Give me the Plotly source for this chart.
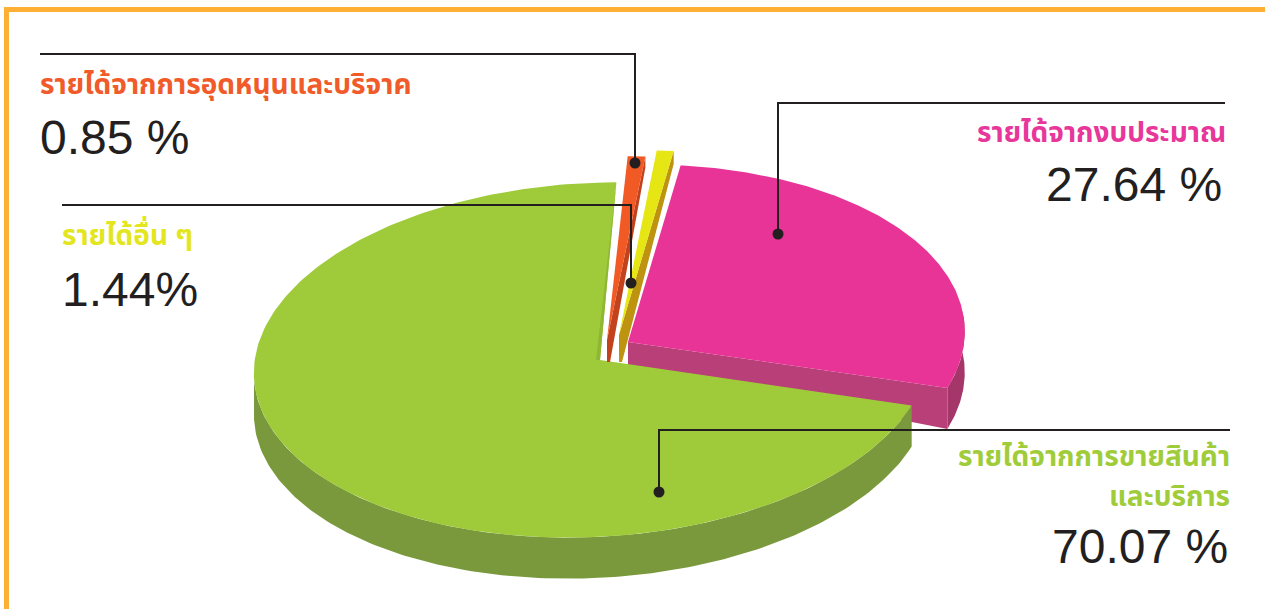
import numpy as np
import plotly.graph_objects as go

# ---------- data ----------
categories = [["รายได้จากงบประมาณ"], ["รายได้จากการขายสินค้า", "และบริการ"], ["รายได้จากการอุดหนุนและบริจาค"], ["รายได้อื่น ๆ"]]
values = [27.64, 70.07, 0.85, 1.44]
value_labels = ["27.64 %", "70.07 %", "0.85 %", "1.44%"]

# ---------- style / layout ----------
top_colors = ["#E83397", "#9FCB3A", "#F15A24", "#E6E615"]
side_colors = ["#B93F78", "#7A993C", "#C1421C", "#BD9310"]
outer_colors = ["#A43669", "#7A993C", "#C1421C", "#BD9310"]
label_colors = ["#E8379A", "#A0CC3A", "#F15A29", "#E3E61F"]
INK = "#231F20"
FRAME = "#FDB035"
# per slice: ellipse centre, semi axes, tilt, wedge apex, start angle, drawn-sweep scale, depth at apex and rim
geo = [
    dict(c=(628, 342), a=337, b=177, tilt=2.5, apex=(628, 342), start=-79.7, scale=1.0, d0=24, d1=41),
    dict(c=(592, 360), a=338.5, b=177, tilt=3.0, apex=(600, 360), start=20.6, scale=1.0113, d0=0, d1=41),
    dict(c=(607, 340), a=346, b=183, tilt=3.0, apex=(607, 340), start=-85.1, scale=1.0, d0=22, d1=11),
    dict(c=(619, 335), a=346, b=184, tilt=3.0, apex=(619, 335), start=-82.26, scale=0.57, d0=27, d1=13),
]


def ell(g, t_deg):
    t = np.radians(np.asarray(t_deg, float))
    tilt = np.radians(g["tilt"])
    u, v = g["a"] * np.cos(t), g["b"] * np.sin(t)
    return (g["c"][0] + u * np.cos(tilt) + v * np.sin(tilt),
            g["c"][1] - u * np.sin(tilt) + v * np.cos(tilt))


def poly(fig, xs, ys, color):
    fig.add_trace(go.Scatter(x=list(xs), y=list(ys), mode="lines", fill="toself",
                             fillcolor=color, line=dict(width=0, color=color),
                             hoverinfo="skip", showlegend=False))


fig = go.Figure()
sweeps = [v * 3.6 * g["scale"] for v, g in zip(values, geo)]
ts = [np.linspace(g["start"], g["start"] + s, 240) for g, s in zip(geo, sweeps)]

# pink
g, t = geo[0], ts[0]
x, y = ell(g, t)
rim = t >= -6
poly(fig, list(x[rim]) + list(x[rim][::-1]), list(y[rim]) + list(y[rim][::-1] + g["d1"]), outer_colors[0])
poly(fig, [g["apex"][0], g["apex"][0], x[-1], x[-1]], [g["apex"][1], g["apex"][1] + g["d0"], y[-1] + g["d1"], y[-1]], side_colors[0])
poly(fig, [g["apex"][0]] + list(x), [g["apex"][1]] + list(y), top_colors[0])

# green
g, t = geo[1], ts[1]
x, y = ell(g, t)
low = t <= 180
poly(fig, list(x[low]) + list(x[low][::-1]), list(y[low]) + list(y[low][::-1] + g["d1"]), side_colors[1])
poly(fig, [g["apex"][0]] + list(x), [g["apex"][1]] + list(y), top_colors[1])
poly(fig, [g["apex"][0], g["apex"][0] - 4, x[-1]], [g["apex"][1], g["apex"][1], y[-1]], "#8FB734")

# orange and yellow (exploded thin wedges)
for i in (2, 3):
    g, t = geo[i], ts[i]
    x, y = ell(g, t)
    ax, ay = g["apex"]
    poly(fig, [ax, ax, ax + 3, x[-1], x[-1]], [ay, ay + g["d0"], ay + g["d0"], y[-1] + g["d1"], y[-1]], side_colors[i])
    poly(fig, [ax] + list(x), [ay] + list(y), top_colors[i])

# frame
fig.add_trace(go.Scatter(x=[6.5, 6.5, 1265], y=[609, 9.5, 9.5], mode="lines",
                         line=dict(color=FRAME, width=5), hoverinfo="skip", showlegend=False))

# leaders: far end x, corner x, horizontal y, dot y
leaders = [
    (1225, 778, 103, 234),
    (40, 635, 54, 163),
    (62, 631, 205, 283),
    (1230, 659, 430, 492),
]
for far, dx, ly, dy in leaders:
    fig.add_trace(go.Scatter(x=[far, dx, dx], y=[ly, ly, dy], mode="lines",
                             line=dict(color=INK, width=2), hoverinfo="skip", showlegend=False))
    fig.add_trace(go.Scatter(x=[dx], y=[dy], mode="markers",
                             marker=dict(color=INK, size=11), hoverinfo="skip", showlegend=False))

THAI = "Noto Sans Thai, Noto Sans, Liberation Sans, sans-serif"
NUM = "Liberation Sans, Arial, sans-serif"
# category index -> label x, label line ys, anchor, number x, number y
placing = [
    (1228, [133], "right", 1224, 184),
    (1232, [457, 497], "right", 1230, 546),
    (38, [85], "left", 38, 137),
    (60, [236], "left", 60, 289),
]
for i, (lx, lys, anch, nx, ny) in enumerate(placing):
    for line, ly in zip(categories[i], lys):
        fig.add_annotation(x=lx, y=ly, text="<b>%s</b>" % line, showarrow=False, xanchor=anch, yanchor="middle",
                           align=anch, font=dict(family=THAI, size=28, color=label_colors[i]))
    fig.add_annotation(x=nx, y=ny, text=value_labels[i], showarrow=False, xanchor=anch, yanchor="middle",
                       align=anch, font=dict(family=NUM, size=48, color=INK))

fig.update_layout(
    width=1265, height=609, margin=dict(l=0, r=0, t=0, b=0),
    paper_bgcolor="white", plot_bgcolor="white", showlegend=False,
    xaxis=dict(range=[0, 1265], visible=False, fixedrange=True),
    yaxis=dict(range=[609, 0], visible=False, fixedrange=True),
)
fig.write_html("out.html", config=dict(displayModeBar=False),
               post_script="document.body.style.margin='0';document.documentElement.style.overflow='hidden';")
